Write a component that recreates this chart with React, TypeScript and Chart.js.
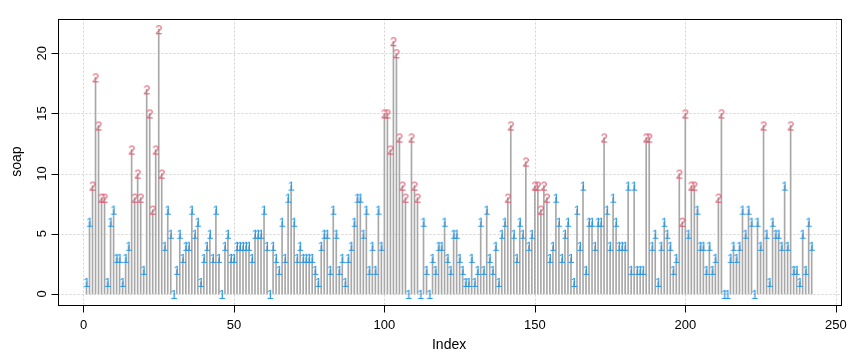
import React, { useEffect, useRef } from 'react';
import { Chart, registerables } from 'chart.js';

Chart.register(...registerables);

// soap counts, one per observation (Index 1..242)
const soapValues: number[] = [
  1, 6, 9, 18, 14, 8, 8, 1, 6, 7,
  3, 3, 1, 3, 4, 12, 8, 10, 8, 2,
  17, 15, 7, 12, 22, 10, 4, 7, 5, 0,
  2, 5, 3, 4, 4, 7, 5, 6, 1, 3,
  4, 5, 3, 7, 3, 0, 4, 5, 3, 3,
  4, 4, 4, 4, 4, 3, 5, 5, 5, 7,
  4, 0, 4, 3, 2, 6, 3, 8, 9, 6,
  3, 4, 3, 3, 3, 3, 2, 1, 4, 5,
  5, 2, 7, 5, 2, 3, 1, 3, 4, 6,
  8, 8, 5, 7, 2, 4, 2, 7, 4, 15,
  15, 12, 21, 20, 13, 9, 8, 0, 13, 9,
  8, 0, 6, 2, 0, 3, 2, 4, 4, 6,
  3, 2, 5, 5, 3, 2, 1, 1, 3, 1,
  2, 6, 2, 7, 3, 2, 4, 1, 5, 6,
  8, 14, 5, 3, 6, 5, 11, 4, 5, 9,
  9, 7, 9, 8, 3, 4, 8, 6, 3, 5,
  6, 3, 1, 7, 4, 9, 2, 6, 6, 4,
  6, 6, 13, 7, 4, 8, 6, 4, 4, 4,
  9, 2, 9, 2, 2, 2, 13, 13, 4, 5,
  1, 4, 6, 5, 4, 2, 3, 10, 6, 15,
  5, 9, 9, 7, 4, 4, 2, 4, 2, 3,
  8, 15, 0, 0, 3, 4, 3, 4, 7, 5,
  7, 6, 0, 6, 4, 14, 5, 1, 6, 5,
  5, 4, 9, 4, 14, 2, 2, 1, 5, 2,
  6, 4,
];

// group label plotted at each observation ("1" or "2")
const soapGroups: number[] = [
  1, 1, 2, 2, 2, 2, 2, 1, 1, 1,
  1, 1, 1, 1, 1, 2, 2, 2, 2, 1,
  2, 2, 2, 2, 2, 2, 1, 1, 1, 1,
  1, 1, 1, 1, 1, 1, 1, 1, 1, 1,
  1, 1, 1, 1, 1, 1, 1, 1, 1, 1,
  1, 1, 1, 1, 1, 1, 1, 1, 1, 1,
  1, 1, 1, 1, 1, 1, 1, 1, 1, 1,
  1, 1, 1, 1, 1, 1, 1, 1, 1, 1,
  1, 1, 1, 1, 1, 1, 1, 1, 1, 1,
  1, 1, 1, 1, 1, 1, 1, 1, 1, 2,
  2, 2, 2, 2, 2, 2, 2, 1, 2, 2,
  2, 1, 1, 1, 1, 1, 1, 1, 1, 1,
  1, 1, 1, 1, 1, 1, 1, 1, 1, 1,
  1, 1, 1, 1, 1, 1, 1, 1, 1, 1,
  2, 2, 1, 1, 1, 1, 2, 1, 1, 2,
  2, 2, 2, 2, 1, 1, 1, 1, 1, 1,
  1, 1, 1, 1, 1, 1, 1, 1, 1, 1,
  1, 1, 2, 1, 1, 1, 1, 1, 1, 1,
  1, 1, 1, 1, 1, 1, 2, 2, 1, 1,
  1, 1, 1, 1, 1, 1, 1, 2, 2, 2,
  1, 2, 2, 1, 1, 1, 1, 1, 1, 1,
  2, 2, 1, 1, 1, 1, 1, 1, 1, 1,
  1, 1, 1, 1, 1, 2, 1, 1, 1, 1,
  1, 1, 1, 1, 2, 1, 1, 1, 1, 1,
  1, 1,
];

const xTicks: number[] = [0, 50, 100, 150, 200, 250];
const yTicks: number[] = [0, 5, 10, 15, 20];
const xTitle = 'Index';
const yTitle = 'soap';

const FONT = '"Liberation Sans", Arial, sans-serif';
const BLUE = '#2297E6';
const RED = '#DF536B';
const STEM = '#A8A8A8';

function makeGlyph(text: string, color: string): HTMLCanvasElement {
  const c = document.createElement('canvas');
  c.width = 14;
  c.height = 18;
  const g = c.getContext('2d')!;
  g.font = `13px ${FONT}`;
  g.fillStyle = color;
  g.textAlign = 'center';
  g.textBaseline = 'alphabetic';
  g.fillText(text, 7, 13.6);
  return c;
}

const rBasePlugin = {
  id: 'rBase',
  beforeDatasetsDraw(chart: any) {
    const { ctx, chartArea: a, scales } = chart;
    const x = scales.x;
    const y = scales.y;
    ctx.save();
    ctx.strokeStyle = '#D3D3D3';
    ctx.lineWidth = 1;
    ctx.setLineDash([2, 2]);
    xTicks.forEach((v) => {
      const px = Math.round(x.getPixelForValue(v)) + 0.5;
      ctx.beginPath();
      ctx.moveTo(px, a.top);
      ctx.lineTo(px, a.bottom);
      ctx.stroke();
    });
    yTicks.forEach((v) => {
      const py = Math.round(y.getPixelForValue(v)) + 0.5;
      ctx.beginPath();
      ctx.moveTo(a.left, py);
      ctx.lineTo(a.right, py);
      ctx.stroke();
    });
    ctx.restore();
  },
  afterDraw(chart: any) {
    const { ctx, chartArea: a, scales } = chart;
    const x = scales.x;
    const y = scales.y;
    ctx.save();
    ctx.strokeStyle = '#000';
    ctx.lineWidth = 1;
    ctx.setLineDash([]);
    const L = Math.round(a.left) + 0.5;
    const R = Math.round(a.right) + 0.5;
    const T = Math.round(a.top) + 0.5;
    const B = Math.round(a.bottom) + 0.5;
    ctx.strokeRect(L, T, R - L, B - T);
    const tl = 7;
    ctx.fillStyle = '#000';
    ctx.beginPath();
    const x0 = Math.round(x.getPixelForValue(xTicks[0])) + 0.5;
    const x1 = Math.round(x.getPixelForValue(xTicks[xTicks.length - 1])) + 0.5;
    ctx.moveTo(x0, B);
    ctx.lineTo(x1, B);
    xTicks.forEach((v) => {
      const px = Math.round(x.getPixelForValue(v)) + 0.5;
      ctx.moveTo(px, B);
      ctx.lineTo(px, B + tl);
    });
    const y0 = Math.round(y.getPixelForValue(yTicks[0])) + 0.5;
    const y1 = Math.round(y.getPixelForValue(yTicks[yTicks.length - 1])) + 0.5;
    ctx.moveTo(L, y0);
    ctx.lineTo(L, y1);
    yTicks.forEach((v) => {
      const py = Math.round(y.getPixelForValue(v)) + 0.5;
      ctx.moveTo(L, py);
      ctx.lineTo(L - tl, py);
    });
    ctx.stroke();

    ctx.textAlign = 'center';
    ctx.textBaseline = 'middle';
    ctx.font = `13px ${FONT}`;
    xTicks.forEach((v) => {
      ctx.fillText(String(v), x.getPixelForValue(v), a.bottom + 21);
    });
    ctx.font = `14px ${FONT}`;
    ctx.fillText(xTitle, (a.left + a.right) / 2, a.bottom + 41);

    ctx.font = `13px ${FONT}`;
    yTicks.forEach((v) => {
      ctx.save();
      ctx.translate(a.left - 15, y.getPixelForValue(v));
      ctx.rotate(-Math.PI / 2);
      ctx.fillText(String(v), 0, 0);
      ctx.restore();
    });
    ctx.font = `14px ${FONT}`;
    ctx.save();
    ctx.translate(a.left - 40, (a.top + a.bottom) / 2);
    ctx.rotate(-Math.PI / 2);
    ctx.fillText(yTitle, 0, 0);
    ctx.restore();
    ctx.restore();
  },
};

export default function App() {
  const ref = useRef<HTMLCanvasElement | null>(null);

  useEffect(() => {
    if (!ref.current) return;
    const stems = soapValues.map((v, i) => ({ x: i + 1, y: v }));
    const pts = soapValues.map((v, i) => ({ x: i + 1, y: v, g: soapGroups[i] }));
    const g1 = pts.filter((p) => p.g === 1).map((p) => ({ x: p.x, y: p.y }));
    const g2 = pts.filter((p) => p.g === 2).map((p) => ({ x: p.x, y: p.y }));

    const n = soapValues.length;
    const xPad = (n - 1) * 0.04;
    const yMax = Math.max(...soapValues);
    const yMin = Math.min(...soapValues);
    const yPad = (yMax - yMin) * 0.04;

    const chart = new Chart(ref.current, {
      type: 'bar',
      data: {
        datasets: [
          {
            type: 'scatter',
            label: '1',
            data: g1,
            pointStyle: makeGlyph('1', BLUE),
            pointRadius: 5,
            order: 0,
            clip: false,
          } as any,
          {
            type: 'scatter',
            label: '2',
            data: g2,
            pointStyle: makeGlyph('2', RED),
            pointRadius: 5,
            order: 0,
            clip: false,
          } as any,
          {
            type: 'bar',
            label: 'stems',
            data: stems,
            backgroundColor: STEM,
            borderWidth: 0,
            barThickness: 1,
            order: 1,
          } as any,
        ],
      },
      options: {
        responsive: false,
        animation: false,
        events: [],
        layout: { padding: { left: 57.5, right: 19.3, top: 18.6, bottom: 58.5 } },
        plugins: { legend: { display: false }, tooltip: { enabled: false } },
        scales: {
          x: {
            type: 'linear',
            display: false,
            min: 1 - xPad,
            max: n + xPad,
            offset: false,
          },
          y: {
            type: 'linear',
            display: false,
            min: yMin - yPad,
            max: yMax + yPad,
          },
        },
      } as any,
      plugins: [rBasePlugin],
    });
    return () => chart.destroy();
  }, []);

  return (
    <div style={{ position: 'fixed', left: 0, top: 0, width: 860, height: 363, background: '#fff' }}>
      <canvas ref={ref} width={860} height={363} style={{ display: 'block', width: 860, height: 363 }} />
    </div>
  );
}
